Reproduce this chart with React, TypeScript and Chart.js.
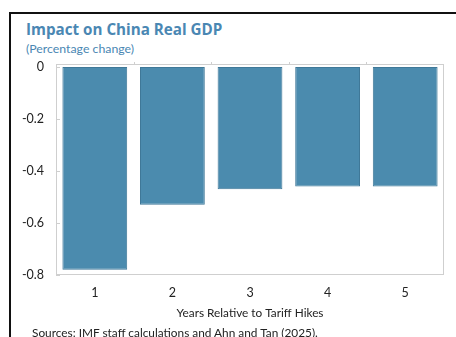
import React, { useEffect, useRef } from "react";
import { Chart, registerables } from "chart.js";

Chart.register(...registerables);

const categories = ["1", "2", "3", "4", "5"];
const gdpImpact = [-0.78, -0.53, -0.47, -0.46, -0.46];
const yTickValues = [0, -0.2, -0.4, -0.6, -0.8];
const titleText = "Impact on China Real GDP";
const subtitleText = "(Percentage change)";
const xAxisTitle = "Years Relative to Tariff Hikes";
const sourceText = "Sources: IMF staff calculations and Ahn and Tan (2025).";

const TITLE_FONT = "'Open Sans', 'Noto Sans', sans-serif";
const FONT = "Lato, 'Open Sans', sans-serif";
const BLUE = "#4a87b3";

const frameBox = {
  id: "frameBox",
  afterDatasetsDraw(chart: any) {
    const { ctx, chartArea } = chart;
    const { left, right, top, bottom } = chartArea;
    ctx.save();
    ctx.strokeStyle = "#cfcfcf";
    ctx.lineWidth = 1;
    ctx.strokeRect(Math.round(left) + 0.5, Math.round(top) + 0.5, Math.round(right - left) - 1, Math.round(bottom - top) - 1);
    const n = categories.length;
    for (let i = 1; i < n; i++) {
      const xb = Math.round(left + ((right - left) * i) / n) + 0.5;
      ctx.beginPath();
      ctx.moveTo(xb, top - 2);
      ctx.lineTo(xb, top + 1);
      ctx.stroke();
    }
    const ys = chart.scales.y;
    yTickValues.forEach((v) => {
      const yy = Math.round(ys.getPixelForValue(v)) + 0.5;
      ctx.beginPath();
      ctx.moveTo(left, yy);
      ctx.lineTo(left + 4, yy);
      ctx.stroke();
    });
    ctx.restore();
  },
};

function App() {
  const ref = useRef<HTMLCanvasElement | null>(null);
  useEffect(() => {
    if (!ref.current) return;
    const chart = new Chart(ref.current, {
      type: "bar",
      data: {
        labels: categories,
        datasets: [
          {
            data: gdpImpact,
            backgroundColor: "#4b8bae",
            borderColor: "#3f7898",
            borderWidth: 1,
            borderSkipped: false,
            barPercentage: 0.835,
            categoryPercentage: 1,
          },
        ],
      },
      options: {
        animation: false,
        responsive: false,
        maintainAspectRatio: false,
        devicePixelRatio: 1,
        layout: { padding: { left: 0, top: 64, right: 12, bottom: 17 } },
        plugins: { legend: { display: false }, tooltip: { enabled: false }, title: { display: false } },
        scales: {
          x: {
            grid: { display: false, drawTicks: false },
            border: { display: false },
            ticks: { color: "#222", font: { family: FONT, size: 12.5 }, padding: 10, maxRotation: 0 },
            title: {
              display: true,
              text: xAxisTitle,
              color: "#222",
              font: { family: FONT, size: 11.8 },
              padding: { top: 0, bottom: 0 },
            },
            afterFit: (s: any) => {
              s.height = 45;
            },
          },
          y: {
            min: -0.8,
            max: 0.0115,
            grid: { display: false, drawTicks: false },
            border: { display: false },
            afterBuildTicks: (s: any) => {
              s.ticks = yTickValues.map((v) => ({ value: v }));
            },
            ticks: {
              color: "#222",
              font: { family: FONT, size: 12.5 },
              padding: 12,
              callback: (v: any) => (Number(v) === 0 ? "0" : Number(v).toFixed(1)),
            },
            afterFit: (s: any) => {
              s.width = 56;
            },
          },
        },
      },
      plugins: [frameBox],
    });
    return () => chart.destroy();
  }, []);

  return (
    <div
      style={{
        position: "fixed",
        left: 0,
        top: 0,
        width: 456,
        height: 337,
        background: "#fff",
        overflow: "hidden",
        fontFamily: FONT,
      }}
    >
      <div
        style={{
          position: "absolute",
          left: 9,
          top: 12,
          width: 460,
          height: 400,
          borderTop: "2px solid #111",
          borderLeft: "2px solid #111",
        }}
      />
      <div
        style={{
          position: "absolute",
          left: 26,
          top: 22,
          fontFamily: TITLE_FONT,
          fontSize: 15.2,
          lineHeight: "15px",
          fontWeight: 700,
          color: BLUE,
          whiteSpace: "nowrap",
        }}
      >
        {titleText}
      </div>
      <div
        style={{
          position: "absolute",
          left: 26,
          top: 43,
          fontSize: 12.3,
          lineHeight: "12.3px",
          color: BLUE,
          whiteSpace: "nowrap",
        }}
      >
        {subtitleText}
      </div>
      <canvas ref={ref} width={456} height={337} style={{ position: "absolute", left: 0, top: 0, width: 456, height: 337 }} />
      <div
        style={{
          position: "absolute",
          left: 32,
          top: 327,
          fontSize: 11.85,
          lineHeight: "12px",
          color: "#222",
          whiteSpace: "nowrap",
        }}
      >
        {sourceText}
      </div>
    </div>
  );
}

export default App;
